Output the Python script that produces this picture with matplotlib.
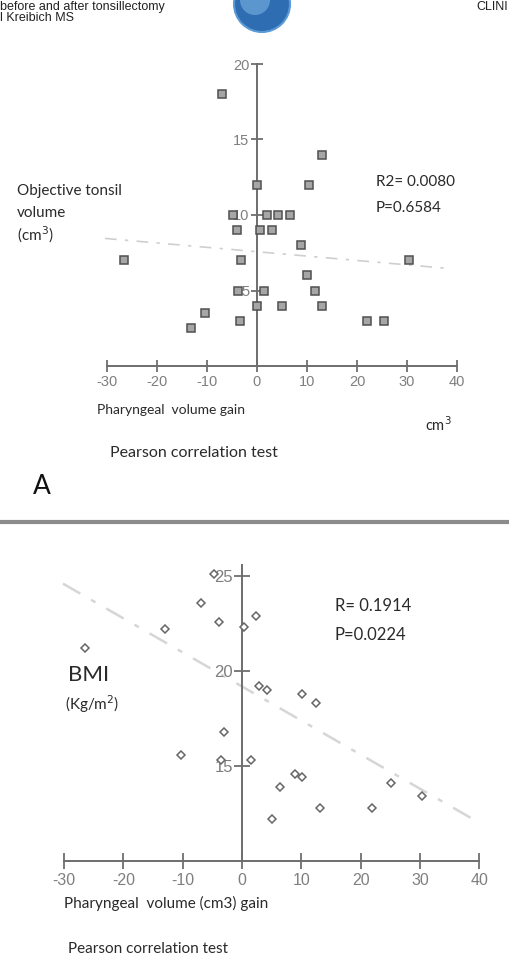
import matplotlib
matplotlib.use("Agg")
import matplotlib.pyplot as plt
from matplotlib.patches import Ellipse
from matplotlib.lines import Line2D

# ---------------- data ----------------
# Panel A: pharyngeal volume gain (cm3) vs objective tonsil volume (cm3)
a_gain = [-26.6, -13.1, -10.4, -7.0, -4.7, -3.9, -3.1, -3.7, -3.4, 0.0, 0.0, 0.6,
          1.5, 2.1, 3.1, 4.3, 5.1, 6.6, 8.8, 10.1, 10.5, 11.6, 13.0, 13.1, 22.0, 25.4, 30.5]
a_tonsil = [7.0, 2.5, 3.5, 18.0, 10.0, 9.0, 7.0, 5.0, 3.0, 12.0, 4.0, 9.0,
            5.0, 10.0, 9.0, 10.0, 4.0, 10.0, 8.0, 6.0, 12.0, 5.0, 14.0, 4.0, 3.0, 3.0, 7.0]
a_fit_x = [-30.4, 38.6]
a_fit_y = [8.45, 6.45]
a_xticks = [-30, -20, -10, 0, 10, 20, 30, 40]
a_yticks = [5, 10, 15, 20]

# Panel B: pharyngeal volume gain (cm3) vs BMI
b_gain = [-26.4, -13.0, -10.3, -6.9, -4.8, -3.9, -3.5, -3.0, 0.3, 1.6, 2.3, 2.9,
          4.3, 5.1, 6.4, 8.9, 10.1, 10.2, 12.5, 13.2, 21.9, 25.1, 30.3]
b_bmi = [21.2, 22.2, 15.6, 23.6, 25.1, 22.6, 15.3, 16.8, 22.3, 15.3, 22.9, 19.2,
         19.0, 12.2, 13.9, 14.6, 14.4, 18.8, 18.3, 12.8, 12.8, 14.1, 13.4]
b_fit_x = [-30.2, 39.8]
b_fit_y = [24.6, 12.05]
b_xticks = [-30, -20, -10, 0, 10, 20, 30, 40]
b_yticks = [15, 20, 25]

W, H = 510, 959
fig = plt.figure(figsize=(W / 100, H / 100), dpi=100)
fig.patch.set_facecolor("white")

TXT = ["Lato", "DejaVu Sans"]
TICKF = ["Liberation Sans", "DejaVu Sans"]
TICKC = "#7f7f7f"
AXC = "#6e6e6e"
TC = "#2a2a2a"


def fx(px):
    return px / W


def fy(py):
    return 1 - py / H


def make_axes(px0, px1, py0, py1):
    return fig.add_axes([fx(px0), fy(py1), (px1 - px0) / W, (py1 - py0) / H])


def style_axes(ax, xcross, ycross, xb, yb, xt, yt, xfs, yfs, xpad, ypad, tl):
    for s in ["top", "right"]:
        ax.spines[s].set_visible(False)
    ax.spines["left"].set_position(("data", xcross))
    ax.spines["bottom"].set_position(("data", ycross))
    ax.spines["left"].set_bounds(*yb)
    ax.spines["bottom"].set_bounds(*xb)
    for s in ["left", "bottom"]:
        ax.spines[s].set_color(AXC)
        ax.spines[s].set_linewidth(1.4)
    ax.set_xticks(xt)
    ax.set_yticks(yt)
    ax.set_xticklabels([str(v) for v in xt], fontfamily=TICKF, fontsize=xfs, color=TICKC)
    ax.set_yticklabels([str(v) for v in yt], fontfamily=TICKF, fontsize=yfs, color=TICKC)
    ax.tick_params(axis="x", direction="inout", length=tl, width=1.3, color=AXC, pad=xpad)
    ax.tick_params(axis="y", direction="inout", length=tl, width=1.3, color=AXC, pad=ypad)
    ax.patch.set_alpha(0)


# ---------------- Panel A ----------------
# mapping: px = 257 + 5*x ; py = 366 - 15.1*y
axA = make_axes(80, 480, 50, 380)
axA.set_xlim((80 - 257) / 5, (480 - 257) / 5)
axA.set_ylim((366 - 380) / 15.1, (366 - 50) / 15.1)
style_axes(axA, 0, 0, (-30, 40), (0, 20), a_xticks, a_yticks, 10.5, 10.5, 2, 1, 9)
axA.plot(a_fit_x, a_fit_y, color="#cfcfcf", lw=1.2, ls=(0, (7, 5, 2, 5)), zorder=1)
axA.plot(a_gain, a_tonsil, ls="none", marker="s", ms=5.5, mfc="#a6a6a6", mec="#505050",
         mew=1.1, zorder=3)

fig.text(fx(17), fy(191), "Objective tonsil", fontfamily=TXT, fontsize=11, color=TC,
         va="center", ha="left")
fig.text(fx(17), fy(213), "volume", fontfamily=TXT, fontsize=11, color=TC,
         va="center", ha="left")
fig.text(fx(17), fy(235), "(cm$^3$)", fontfamily=TXT, fontsize=11, color=TC,
         va="center", ha="left")
fig.text(fx(376), fy(182), "R2= 0.0080", fontfamily=TXT, fontsize=11, color=TC,
         va="center", ha="left")
fig.text(fx(376), fy(208), "P=0.6584", fontfamily=TXT, fontsize=11, color=TC,
         va="center", ha="left")
fig.text(fx(97), fy(410), "Pharyngeal  volume gain", fontfamily=TXT, fontsize=10,
         color=TC, va="center", ha="left")
fig.text(fx(425), fy(425), "cm$^3$", fontfamily=TXT, fontsize=10.5, color=TC,
         va="center", ha="left")
fig.text(fx(110), fy(453), "Pearson correlation test", fontfamily=TXT, fontsize=11.5,
         color=TC, va="center", ha="left")
fig.text(fx(33), fy(486), "A", fontfamily=TXT, fontsize=19, color="#111111",
         va="center", ha="left")

# ---------------- Panel B ----------------
# mapping: px = 242 + 5.93*x ; py = 861 - 19*(y-10)
axB = make_axes(40, 500, 550, 880)
axB.set_xlim((40 - 242) / 5.93, (500 - 242) / 5.93)
axB.set_ylim(10 + (861 - 880) / 19, 10 + (861 - 550) / 19)
style_axes(axB, 0, 10, (-30, 40), (10, 25.6), b_xticks, b_yticks, 11.5, 12, 3, 1, 11)
axB.plot(b_fit_x, b_fit_y, color="#d6d6d6", lw=1.8, ls=(0, (8, 5, 2, 5)), zorder=1)
axB.plot(b_gain, b_bmi, ls="none", marker="D", ms=4, mfc="white", mec="#666666",
         mew=1.1, zorder=3)

fig.text(fx(68), fy(675), "BMI", fontfamily=TXT, fontsize=16, color=TC,
         va="center", ha="left")
fig.text(fx(65), fy(704), "(Kg/m$^2$)", fontfamily=TXT, fontsize=11, color=TC,
         va="center", ha="left")
fig.text(fx(335), fy(606), "R= 0.1914", fontfamily=TXT, fontsize=12, color=TC,
         va="center", ha="left")
fig.text(fx(335), fy(635), "P=0.0224", fontfamily=TXT, fontsize=12, color=TC,
         va="center", ha="left")
fig.text(fx(64), fy(903), "Pharyngeal  volume (cm3) gain", fontfamily=TXT, fontsize=11,
         color=TC, va="center", ha="left")
fig.text(fx(68), fy(949), "Pearson correlation test", fontfamily=TXT, fontsize=11,
         color=TC, va="center", ha="left")

# ---------------- page decorations ----------------
fig.text(fx(0), fy(7), "before and after tonsillectomy", fontfamily=TICKF, fontsize=9,
         color="#222222", va="center", ha="left")
fig.text(fx(0), fy(18), "l Kreibich MS", fontfamily=TICKF, fontsize=9,
         color="#222222", va="center", ha="left")
fig.text(fx(508), fy(7), "CLINI", fontfamily=TICKF, fontsize=9,
         color="#222222", va="center", ha="right")
globe = Ellipse((fx(262), fy(4)), 56 / W, 56 / H, transform=fig.transFigure,
                facecolor="#2f6db3", edgecolor="#5a9ad6", lw=1.5, zorder=0)
fig.patches.append(globe)
glow = Ellipse((fx(255), fy(0)), 30 / W, 30 / H, transform=fig.transFigure,
               facecolor="#6fa8dc", edgecolor="none", alpha=0.7, zorder=0)
fig.patches.append(glow)
sep = Line2D([0, 1], [fy(522), fy(522)], transform=fig.transFigure, color="#8c8c8c", lw=3)
fig.lines.append(sep)

fig.savefig("out.png", dpi=100, facecolor="white")
